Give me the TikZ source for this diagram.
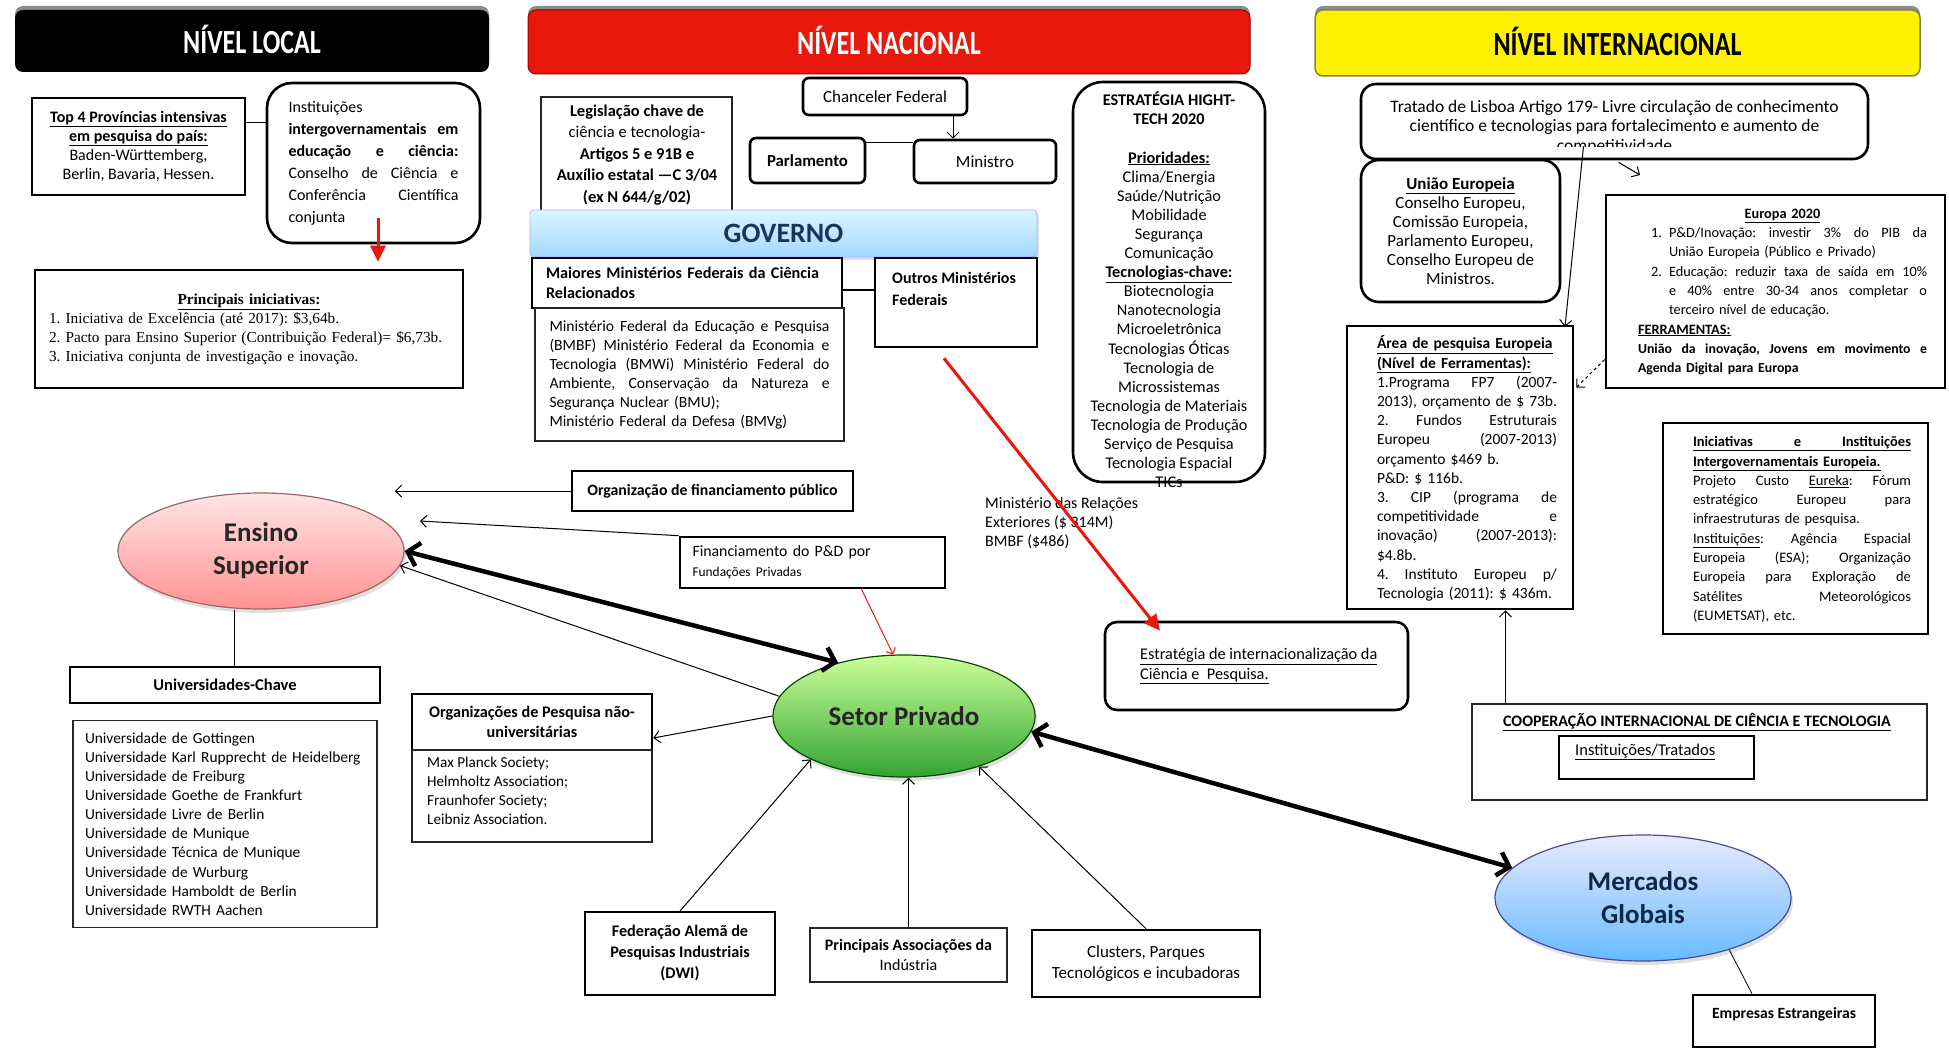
\documentclass[tikz,border=0pt]{standalone}
\usepackage{fontspec}
\setmainfont{Carlito}
\newfontfamily\tnr{Liberation Serif}
\usepackage{graphicx}
\usetikzlibrary{arrows.meta,shadows,calc,shapes.geometric}
\newcommand\fs[2]{\fontsize{#1}{#2}\selectfont}
\newcommand\js[2]{{\spaceskip=.25em plus 1fil\relax\xspaceskip=.3em plus 1fil\relax\makebox[#1][s]{#2}}}
\newcommand\jl[1]{\js{\hsize}{#1}}
\newcommand\cl[1]{\makebox[\hsize][c]{#1}}
\definecolor{navy}{HTML}{17365D}
\definecolor{rd}{HTML}{E8180C}
\begin{document}
\frenchspacing
\begin{tikzpicture}[x=1pt,y=-1pt,
  bx/.style={draw=black, line width=2.6pt, inner sep=0pt, fill=white},
  bxt/.style={draw=black!85, line width=1.1pt, inner sep=0pt, fill=white},
  bxm/.style={draw=black, line width=1.8pt, inner sep=0pt, fill=white},
  txt/.style={inner sep=0pt, align=left},
  hdr/.style={rounded corners=8pt, inner sep=0pt, drop shadow={shadow xshift=0pt, shadow yshift=4pt, fill=black!45, opacity=1}},
  hfont/.style={font=\bfseries\fs{26}{30}},
  ell/.style={ellipse, line width=1.2pt, inner sep=0pt, align=center, text=black!85,
     font=\bfseries\fs{27}{33}, drop shadow={opacity=0.25, shadow xshift=2pt, shadow yshift=-4pt}},
  thinarr/.style={line width=1pt, -{Straight Barb[length=6pt,width=12pt]}},
  bigarr/.style={line width=4.5pt, {Straight Barb[length=11pt,width=24pt]}-{Straight Barb[length=11pt,width=24pt]}},
  redbig/.style={draw=rd, line width=3pt, -{Triangle[length=16pt,width=15pt]}},
  redthin/.style={draw=rd, line width=1pt, -{Straight Barb[length=5pt,width=10pt]}}
]
\useasboundingbox (0,0) rectangle (1949,1049);
\fill[white] (0,0) rectangle (1949,1049);

% ---------- headers ----------
\node[hdr, fill=black, minimum width=474pt, minimum height=62pt, hfont, text=white] (hloc) at (252,41) {\raisebox{3pt}{\scalebox{1}[1.3]{NÍVEL LOCAL}}};
\node[hdr, fill=rd, draw=red!60!black, line width=1pt, minimum width=722pt, minimum height=64pt, hfont, text=white] (hnac) at (889,42) {\raisebox{3pt}{\scalebox{1}[1.3]{NÍVEL NACIONAL}}};
\node[hdr, fill=yellow, draw=yellow!45!black, line width=1.5pt, minimum width=605pt, minimum height=66pt, hfont, text=black] (hint) at (1617.5,43) {\raisebox{3pt}{\scalebox{1}[1.3]{NÍVEL INTERNACIONAL}}};

% ---------- local level ----------
\node[bx, minimum width=213pt, minimum height=97pt, align=center, font=\fs{16}{19}] (top4) at (138.5,146.5)
  {\underline{\textbf{Top 4 Províncias intensivas}}\\\underline{\textbf{em pesquisa do país:}}\\Baden-Württemberg,\\Berlin, Bavaria, Hessen.};
\node[bx, rounded corners=25pt, minimum width=213pt, minimum height=160pt, text width=170pt, align=left, font=\fs{16}{22}] (inst) at (373.5,163)
  {Instituições\\\jl{\textbf{intergovernamentais em}}\\\jl{\textbf{educação e ciência:}}\\\jl{Conselho de Ciência e}\\\jl{Conferência Científica}\\conjunta};
\node[bx, minimum width=428pt, minimum height=118pt, text width=400pt, align=left, font=\tnr\fs{15.3}{19}] (princ) at (249,329)
  {\cl{\underline{\textbf{Principais iniciativas:}}}\\1. Iniciativa de Excelência (até 2017): \$3,64b.\\2. Pacto para Ensino Superior (Contribuição Federal)= \$6,73b.\\3. Iniciativa conjunta de investigação e inovação.};

\node[ell, draw=red!35!black!60, top color=pink!40, bottom color=red!30!pink!90, minimum width=286pt, minimum height=116pt] (ens) at (261,551) {Ensino\\Superior};

\node[bx, minimum width=310pt, minimum height=36pt, font=\bfseries\fs{16.5}{19}] (univchave) at (225,685) {Universidades-Chave};
\node[bxt, minimum width=304pt, minimum height=207pt, text width=280pt, align=left, font=\fs{15.4}{19.1}] (univlist) at (225,824)
  {Universidade de Gottingen\\Universidade Karl Rupprecht de Heidelberg\\Universidade de Freiburg\\Universidade Goethe de Frankfurt\\Universidade Livre de Berlin\\Universidade de Munique\\Universidade Técnica de Munique\\Universidade de Wurburg\\Universidade Hamboldt de Berlin\\Universidade RWTH Aachen};

% ---------- national level ----------
\node[bxt, minimum width=191pt, minimum height=133pt] (legis) at (636.5,163.5) {};
\node[txt, align=center, font=\bfseries\fs{16.5}{21.5}] (legist) at (637,155)
  {Legislação chave de\\{\mdseries ciência e tecnologia-}\\Artigos 5 e 91B e\\Auxílio estatal —C 3/04\\(ex N 644/g/02)};

\node[bx, rounded corners=6pt, minimum width=164pt, minimum height=37pt, font=\fs{17}{19}] (chanc) at (885,96.5) {Chanceler Federal};
\node[bx, rounded corners=6pt, minimum width=115pt, minimum height=45pt, font=\bfseries\fs{16.8}{19}] (parl) at (807.5,160.5) {Parlamento};
\node[bx, rounded corners=6pt, minimum width=142pt, minimum height=43pt, font=\fs{17}{19}] (mini) at (985,161.5) {Ministro};

\node[rounded corners=4pt, top color=blue!20!cyan!15!white, bottom color=blue!45!cyan!35!white, draw=blue!30!white, line width=0.8pt,
      minimum width=507pt, minimum height=47pt, inner sep=0pt, text=navy, font=\bfseries\fs{28}{30},
      drop shadow={opacity=0.25, shadow xshift=2pt, shadow yshift=-3pt}] (gov) at (783.5,233.5) {GOVERNO};

\node[bx, minimum width=310pt, minimum height=50pt, text width=282pt, align=left, font=\bfseries\fs{16.2}{20}] (maio) at (687,283)
  {Maiores Ministérios Federais da Ciência\\Relacionados};
\node[bxt, minimum width=309pt, minimum height=133pt, text width=280pt, align=left, font=\fs{15.6}{19}] (minlist) at (689.5,374.5)
  {\jl{Ministério Federal da Educação e Pesquisa}\\\jl{(BMBF) Ministério Federal da Economia e}\\\jl{Tecnologia (BMWi) Ministério Federal do}\\\jl{Ambiente, Conservação da Natureza e}\\Segurança Nuclear (BMU);\\Ministério Federal da Defesa (BMVg)};
\node[bx, minimum width=162pt, minimum height=89pt] (outros) at (956,302.5) {};
\node[txt, anchor=north west, font=\bfseries\fs{16}{22}] (outrost) at (892,272) {Outros Ministérios\\Federais};

\node[bx, rounded corners=30pt, minimum width=192pt, minimum height=400pt] (htech) at (1169,282) {};
\node[txt, align=center, font=\fs{16.3}{19.1}] (htecht) at (1169,290)
  {\textbf{ESTRATÉGIA HIGHT-}\\\textbf{TECH 2020}\\[19.1pt]\underline{\textbf{Prioridades:}}\\Clima/Energia\\Saúde/Nutrição\\Mobilidade\\Segurança\\Comunicação\\\underline{\textbf{Tecnologias-chave:}}\\Biotecnologia\\Nanotecnologia\\Microeletrônica\\Tecnologias Óticas\\Tecnologia de\\Microssistemas\\Tecnologia de Materiais\\Tecnologia de Produção\\Serviço de Pesquisa\\Tecnologia Espacial\\TICs};

\node[txt, anchor=north west, font=\fs{16}{19.3}] (rel) at (985,497) {Ministério das Relações\\Exteriores (\$ 314M)\\BMBF (\$486)};

\node[bx, rounded corners=12pt, minimum width=303pt, minimum height=88pt] (inter) at (1256.5,666) {};
\node[txt, anchor=north west, font=\fs{16.3}{20}] (intert) at (1140,648)
  {\underline{Estratégia de internacionalização da}\\\underline{Ciência e\ \ Pesquisa.}};

\node[bx, minimum width=281pt, minimum height=40pt, font=\bfseries\fs{15.8}{18}] (orgfin) at (712.5,491) {Organização de financiamento público};
\node[bx, minimum width=265pt, minimum height=51pt, text width=240pt, align=left, font=\fs{15.8}{20}] (fin) at (812.5,562.5)
  {Financiamento do P\&D por\\{\fs{13.4}{15}Fundações Privadas}};

\node[ell, draw=green!30!black, top color=green!50!yellow!40!white, bottom color=green!55!black!80, minimum width=262pt, minimum height=122pt] (set) at (904,716) {Setor Privado};

\node[bx, minimum width=240pt, minimum height=56pt, align=center, font=\bfseries\fs{16.2}{20}] (orgpesq) at (532,722) {Organizações de Pesquisa não-\\universitárias};
\node[bxt, minimum width=240pt, minimum height=92pt] (orglist) at (532,796) {};
\node[txt, anchor=north west, font=\fs{15.2}{19}] (orglistt) at (427,757) {Max Planck Society;\\Helmholtz Association;\\Fraunhofer Society;\\Leibniz Association.};

\node[bxm, minimum width=190pt, minimum height=83pt, align=center, font=\bfseries\fs{16.2}{21}] (fed) at (680,953.5) {Federação Alemã de\\Pesquisas Industriais\\(DWI)};
\node[bxt, minimum width=197pt, minimum height=54pt, align=center, font=\bfseries\fs{16}{20}] (assoc) at (908.5,955) {Principais Associações da\\{\mdseries Indústria}};
\node[bx, minimum width=228pt, minimum height=67pt, align=center, font=\fs{17}{21}] (clust) at (1146,963.5) {Clusters, Parques\\Tecnológicos e incubadoras};

% ---------- international level ----------
\node[bx, rounded corners=15pt, minimum width=507pt, minimum height=75pt] (trat) at (1614.5,121.5) {};
\begin{scope}
  \clip (1370,88) rectangle (1860,146.5);
  \node[txt, align=center, font=\fs{17.5}{19.5}] (tratt) at (1614.5,127)
    {Tratado de Lisboa Artigo 179- Livre circulação de conhecimento\\científico e tecnologias para fortalecimento e aumento de\\competitividade};
\end{scope}
\node[bx, rounded corners=18pt, minimum width=199pt, minimum height=142pt, align=center, font=\fs{17}{19}] (uniao) at (1460.5,231)
  {\underline{\textbf{União Europeia}}\\Conselho Europeu,\\Comissão Europeia,\\Parlamento Europeu,\\Conselho Europeu de\\Ministros.};
\node[bx, minimum width=339pt, minimum height=193pt] (eur) at (1775.5,291.5) {};
\node[txt, text width=289pt, font=\fs{14.3}{19.3}] (eurt) at (1782.5,292)
  {\cl{\underline{\textbf{Europa 2020}}}\\
   \hspace*{13pt}\makebox[18pt][l]{1.}\js{258pt}{P\&D/Inovação: investir 3\% do PIB da}\\
   \hspace*{31pt}União Europeia (Público e Privado)\\
   \hspace*{13pt}\makebox[18pt][l]{2.}\js{258pt}{Educação: reduzir taxa de saída em 10\%}\\
   \hspace*{31pt}\js{258pt}{e 40\% entre 30-34 anos completar o}\\
   \hspace*{31pt}terceiro nível de educação.\\
   \underline{\textbf{FERRAMENTAS:}}\\
   {\fs{13.8}{19.3}\textbf{\jl{União da inovação, Jovens em movimento e}}}\\
   {\fs{13.8}{19.3}\textbf{Agenda Digital para Europa}}};
\node[bx, minimum width=226pt, minimum height=283pt] (area) at (1460,467.5) {};
\node[txt, text width=180pt, font=\fs{15.5}{19.2}] (areat) at (1467,468.5)
  {\underline{\textbf{Área de pesquisa Europeia}}\\\underline{\textbf{(Nível de Ferramentas):}}\\
   \jl{1.Programa FP7 (2007-}\\\jl{2013), orçamento de \$ 73b.}\\\jl{2. Fundos Estruturais}\\\jl{Europeu (2007-2013)}\\
   orçamento \$469 b.\\P\&D: \$ 116b.\\\jl{3. CIP (programa de}\\\jl{competitividade e}\\\jl{inovação) (2007-2013):}\\
   \$4.8b.\\\jl{4. Instituto Europeu p/}\\Tecnologia (2011): \$ 436m.};
\node[bx, minimum width=265pt, minimum height=211pt] (inic) at (1795.5,528.5) {};
\node[txt, text width=218pt, font=\fs{14.5}{19.3}] (inict) at (1802,529.5)
  {\underline{\textbf{\jl{Iniciativas e Instituições}}}\\\underline{\textbf{Intergovernamentais Europeia.}}\\
   \jl{Projeto Custo \underline{Eureka}: Fórum}\\\jl{estratégico Europeu para}\\infraestruturas de pesquisa.\\
   \jl{\underline{Instituições}: Agência Espacial}\\\jl{Europeia (ESA); Organização}\\\jl{Europeia para Exploração de}\\
   \jl{Satélites Meteorológicos}\\(EUMETSAT), etc.};

\node[bxt, minimum width=455pt, minimum height=96pt] (coop) at (1699.5,752) {};
\node[txt, font=\bfseries\fs{16}{18}] (coopt) at (1697,722) {\underline{COOPERAÇÃO INTERNACIONAL DE CIÊNCIA E TECNOLOGIA}};
\node[bxm, minimum width=195pt, minimum height=43pt] (insttr) at (1656.5,757.5) {};
\node[txt, anchor=west, font=\fs{16.5}{18}] (insttrt) at (1575,752) {\underline{Instituições/Tratados}};

\node[ell, draw=blue!40!black!70, top color=blue!8!white, bottom color=blue!45!cyan!60!white, text=navy!70!black, minimum width=296pt, minimum height=126pt] (merc) at (1643,898) {Mercados\\Globais};

\node[bx, minimum width=182pt, minimum height=52pt] (emp) at (1784,1021) {};
\node[txt, font=\bfseries\fs{15.6}{18}] (empt) at (1784,1014) {Empresas Estrangeiras};

% ---------- connectors ----------
\draw[line width=1pt] ($(top4.east)+(0,-24.5)$) -- ($(top4.east -| inst.west)+(0,-24.5)$);
\draw[redbig] ($(inst.south)+(4.5,-26)$) -- ($(inst.south |- princ.north)+(4.5,-7)$);
\draw[line width=1pt] ($(univchave.north)+(9,0)$) -- ($(univchave.north |- ens.south)+(9,0)$);

\draw[thinarr] ($(chanc.south)+(68,0)$) -- ($(chanc.south |- mini.north)+(68,0)$);
\draw[line width=1pt] ($(parl.east)+(0,-18.5)$) -- ($(parl.east -| mini.west)+(0,-18.5)$);
\draw[line width=1.5pt] ($(maio.east)+(0,7)$) -- ($(maio.east -| outros.west)+(0,7)$);

\coordinate (ofend) at (395,491);
\draw[thinarr] (orgfin.west) -- (ofend);
\coordinate (fpend) at (420,521);
\draw[thinarr] (fin.north west) -- (fpend);

\draw[bigarr] (ens.east) -- (set.141);
\draw[thinarr] (set.171) -- (ens.-6);
\draw[redthin] ($(fin.south)+(49,0)$) -- (set.100);
\draw[thinarr] (set.west) -- ($(orgpesq.east)+(0,16)$);
\draw[thinarr] (fed.north) -- (set.205);
\draw[thinarr] (assoc.north) -- (assoc.north |- set.south);
\draw[thinarr] (clust.north) -- (set.-34);
\draw[bigarr] (set.-7) -- (merc.167);
\draw[line width=0.8pt] (merc.-31) -- ($(emp.north)+(-32,0)$);

\draw[thinarr] ($(coop.north west)+(34,0)$) -- ($(coop.north west |- area.south)+(34,0)$);
\draw[thinarr] ($(trat.south)+(-31,-14)$) -- ($(area.north)+(105,2)$);
\coordinate (tsb) at (1640,175);
\draw[thinarr] ($(trat.south)+(4,2)$) -- (tsb);
\draw[thinarr, dashed] ($(eur.west)+(0,68)$) -- ($(area.east)+(2,-80)$);

\draw[redbig] ($(outros.south)+(-12,10)$) -- ($(inter.north)+(-96.5,10)$);
\end{tikzpicture}
\end{document}
